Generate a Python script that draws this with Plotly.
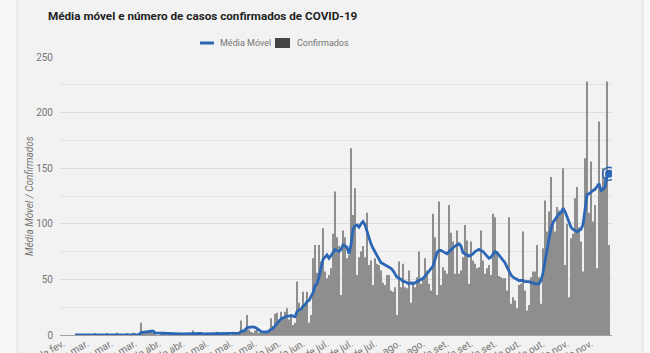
import pandas as pd
import plotly.graph_objects as go

# ---------------- data ----------------
start_date = "2020-02-24"

confirmados = (
    [0, 0, 0, 0, 0, 0]
    + [0, 0, 0, 0, 0, 0, 0]
    + [0, 0, 0, 1, 0, 0, 0]
    + [0, 0, 1, 0, 0, 0, 0]
    + [2, 0, 0, 0, 0, 1, 0]
    + [0, 2, 1, 0, 0]
    + [11, 2, 3, 1, 2, 4, 2]
    + [1, 0, 0, 1, 3, 1, 0]
    + [1, 0, 2, 1, 0, 1, 0]
    + [1, 2, 0, 1, 0, 4, 1]
    + [0, 1, 2, 1, 0, 2, 1]
    + [1, 0, 2, 3, 1, 0, 2]
    + [1, 2, 1, 0, 3, 2, 1, 2]
    + [13, 4, 6, 18, 5, 3, 2]
    + [4, 6, 1, 2, 3, 1, 2]
    + [3, 15, 8, 19, 20, 12, 21]
    + [16, 21, 24, 14, 18, 9, 11]
    + [48, 29, 22, 39, 26, 39, 11]
    + [18, 69, 81, 56, 81, 66, 96]
    + [57, 51, 54, 60, 91, 129, 88]
    + [80, 36, 94, 88, 69, 72, 168]
    + [108, 132, 54, 70, 75, 80, 70]
    + [110, 63, 67, 45, 69, 64, 63]
    + [58, 47, 45, 54, 54, 40, 39]
    + [43, 18, 66, 43, 64, 43, 42]
    + [58, 29, 48, 43, 52, 75, 46]
    + [52, 69, 58, 46, 40, 109, 88]
    + [36, 120, 45, 61, 58, 55, 117]
    + [92, 84, 55, 94, 55, 58, 70]
    + [99, 85, 46, 84, 67, 64, 60]
    + [61, 94, 67, 55, 60, 63, 54]
    + [109, 106, 73, 53, 52, 51, 51]
    + [40, 106, 28, 34, 31, 24, 45]
    + [46, 93, 40, 22, 27, 52, 57]
    + [57, 81, 52, 28, 78, 121, 93]
    + [111, 142, 103, 93, 115, 112, 111]
    + [150, 63, 100, 34, 87, 91, 123]
    + [133, 97, 84, 57, 159, 228, 110]
    + [156, 102, 117, 60, 192, 130, 150]
    + [142, 228, 81]
)

media_movel = (
    [None] * 6
    + [0, 0, 0, 0, 0, 0, 0, 0, 0, 0]
    + [0.1, 0.1, 0.1, 0.1, 0.1, 0.1, 0.3]
    + [0.1, 0.1, 0.1, 0.1, 0.4, 0.3, 0.3]
    + [0.3, 0.3, 0.4, 0.4, 0.1, 0.4, 0.6, 0.6]
    + [0.4, 2.1, 2.4, 2.9, 3.0, 3.3, 3.9, 3.6]
    + [2.0, 1.9, 1.4, 1.3, 1.4, 1.3, 1.0]
    + [1.0, 0.9, 1.1, 1.0, 0.9, 0.9, 0.9]
    + [0.9, 1.0, 1.0, 1.0, 0.9, 1.3, 1.3]
    + [1.3, 1.3, 1.4, 1.0, 1.0, 1.3, 1.0]
    + [1.0, 1.0, 1.1, 1.3, 1.4, 1.1, 1.3]
    + [1.3, 1.4, 1.1, 1.1, 1.3, 1.3, 1.3, 1.6]
    + [3.1, 3.4, 4.1, 6.7, 7.0, 7.3, 7.3]
    + [6.9, 5.9, 4.6, 3.0, 2.7, 2.6, 2.7]
    + [3.5, 5.3, 6.0, 8.5, 11.0, 12.5, 14.5]
    + [15.5, 16.5, 17.0, 17.0, 17.5, 17.0, 16.5]
    + [21, 22.5, 23, 26, 27, 30, 31]
    + [34, 38, 44, 46, 52, 60, 68]
    + [70, 72, 69, 71, 74, 77, 76]
    + [75, 77, 81, 80, 79, 73, 81]
    + [95, 98, 99, 97, 100, 102, 99]
    + [93, 87, 82, 78, 75, 71, 68]
    + [65, 64, 63, 62, 61, 60, 58]
    + [55, 52, 51, 50, 48, 48, 47]
    + [46, 47, 46, 47, 48, 49, 50]
    + [51, 53, 55, 57, 59, 62, 68]
    + [74, 76, 76, 75, 74, 73, 75]
    + [77, 79, 80, 81, 82, 80, 74]
    + [73, 72, 71, 72, 73, 75, 76]
    + [77, 76, 75, 73, 71, 69, 70]
    + [73, 75, 74, 72, 70, 68, 65]
    + [61, 57, 54, 52, 51, 50, 49]
    + [49, 49, 48, 48, 48, 47, 47]
    + [46, 46, 46, 49, 56, 66, 76]
    + [88, 96, 101, 104, 106, 109, 110]
    + [114, 111, 106, 101, 97, 95, 94]
    + [93, 94, 95, 99, 112, 126, 127]
    + [129, 130, 131, 133, 136, 130, 131]
    + [133, 143, 145]
)

tick_dates = ["2020-02-24", "2020-03-07", "2020-03-19", "2020-03-31", "2020-04-12",
              "2020-04-24", "2020-05-06", "2020-05-18", "2020-05-30", "2020-06-11",
              "2020-06-23", "2020-07-05", "2020-07-17", "2020-07-29", "2020-08-10",
              "2020-08-22", "2020-09-03", "2020-09-15", "2020-09-27", "2020-10-09",
              "2020-10-21", "2020-11-02", "2020-11-14"]
tick_labels = ["24 de fev.", "7 de mar.", "19 de mar.", "31 de mar.", "12 de abr.",
               "24 de abr.", "6 de mai.", "18 de mai.", "30 de mai.", "11 de jun.",
               "23 de jun.", "5 de jul.", "17 de jul.", "29 de jul.", "10 de ago.",
               "22 de ago.", "3 de set.", "15 de set.", "27 de set.", "9 de out.",
               "21 de out.", "2 de nov.", "14 de nov."]

y_ticks = [0, 50, 100, 150, 200, 250]

assert len(confirmados) == len(media_movel)
dates = pd.date_range(start_date, periods=len(confirmados), freq="D")

# ---------------- figure ----------------
W, H = 650, 353
L, R, T, B = 60, 38, 57, 18
pw, ph = W - L - R, H - T - B

def px_x(x):
    return (x - L) / pw

def px_y(y):
    return (H - B - y) / ph

BLUE = "#2b67b4"
BAR = "#8e8e8e"
TXT = "#757575"

fig = go.Figure()
fig.add_trace(go.Bar(x=dates, y=confirmados, name="Confirmados",
                     marker=dict(color=BAR, line=dict(width=0))))
fig.add_trace(go.Scatter(x=dates, y=media_movel, name="Média Móvel", mode="lines",
                         line=dict(color=BLUE, width=2.8), connectgaps=False))
# highlighted last point
fig.add_trace(go.Scatter(x=[dates[-1]], y=[media_movel[-1]], mode="markers",
                         marker=dict(size=13, color="rgba(0,0,0,0)",
                                     line=dict(color=BLUE, width=1.4)),
                         hoverinfo="skip"))
fig.add_trace(go.Scatter(x=[dates[-1]], y=[media_movel[-1]], mode="markers",
                         marker=dict(size=8, color=BLUE), hoverinfo="skip"))

shapes = [
    # card background
    dict(type="rect", xref="paper", yref="paper", layer="below",
         x0=px_x(17), x1=px_x(643), y0=px_y(380), y1=px_y(-10),
         fillcolor="#f2f2f2", line=dict(color="#dedede", width=1)),
    # legend swatches
    dict(type="line", xref="paper", yref="paper",
         x0=px_x(200), x1=px_x(214), y0=px_y(43), y1=px_y(43),
         line=dict(color=BLUE, width=3)),
    dict(type="rect", xref="paper", yref="paper",
         x0=px_x(275), x1=px_x(290), y0=px_y(48), y1=px_y(38),
         fillcolor="#444444", line=dict(width=0)),
]

annotations = [
    dict(text="Média Móvel", xref="paper", yref="paper", x=px_x(218), y=px_y(43),
         xanchor="left", yanchor="middle", showarrow=False,
         font=dict(family="Roboto", size=9, color=TXT)),
    dict(text="Confirmados", xref="paper", yref="paper", x=px_x(295), y=px_y(43),
         xanchor="left", yanchor="middle", showarrow=False,
         font=dict(family="Roboto", size=9, color=TXT)),
    dict(text="<i>Média Móvel / Confirmados</i>", xref="paper", yref="paper",
         x=px_x(29), y=0.5, xanchor="center", yanchor="middle", textangle=-90,
         showarrow=False, font=dict(family="Roboto", size=10, color=TXT)),
]

fig.update_layout(
    width=W, height=H,
    margin=dict(l=L, r=R, t=T, b=B, pad=0),
    paper_bgcolor="#f8f8f8",
    plot_bgcolor="rgba(0,0,0,0)",
    showlegend=False,
    bargap=0.45,
    title=dict(text="<b>Média móvel e número de casos confirmados de COVID-19</b>",
               xref="container", yref="container", x=48 / W, y=1 - 16 / H,
               xanchor="left", yanchor="middle",
               font=dict(family="Roboto", size=11.7, color="#222222")),
    shapes=shapes,
    annotations=annotations,
    xaxis=dict(
        type="date",
        range=["2020-02-22 12:00", "2020-11-24 12:00"],
        tickmode="array", tickvals=tick_dates, ticktext=tick_labels,
        tickangle=-30, tickfont=dict(family="Roboto", size=10, color=TXT),
        showgrid=False, zeroline=False, showline=False, ticks="",
        automargin=False,
    ),
    yaxis=dict(
        range=[0, 250],
        tickmode="array", tickvals=y_ticks,
        tickfont=dict(family="Roboto", size=10, color=TXT),
        showgrid=True, gridcolor="#dcdcdc", gridwidth=1,
        minor=dict(dtick=25, showgrid=True, gridcolor="#e4e4e4", gridwidth=1),
        zeroline=True, zerolinecolor="#a0a0a0", zerolinewidth=1,
        showline=False, ticks="", ticklabelstandoff=6,
        automargin=False,
    ),
)

fig.write_html("out.html")
